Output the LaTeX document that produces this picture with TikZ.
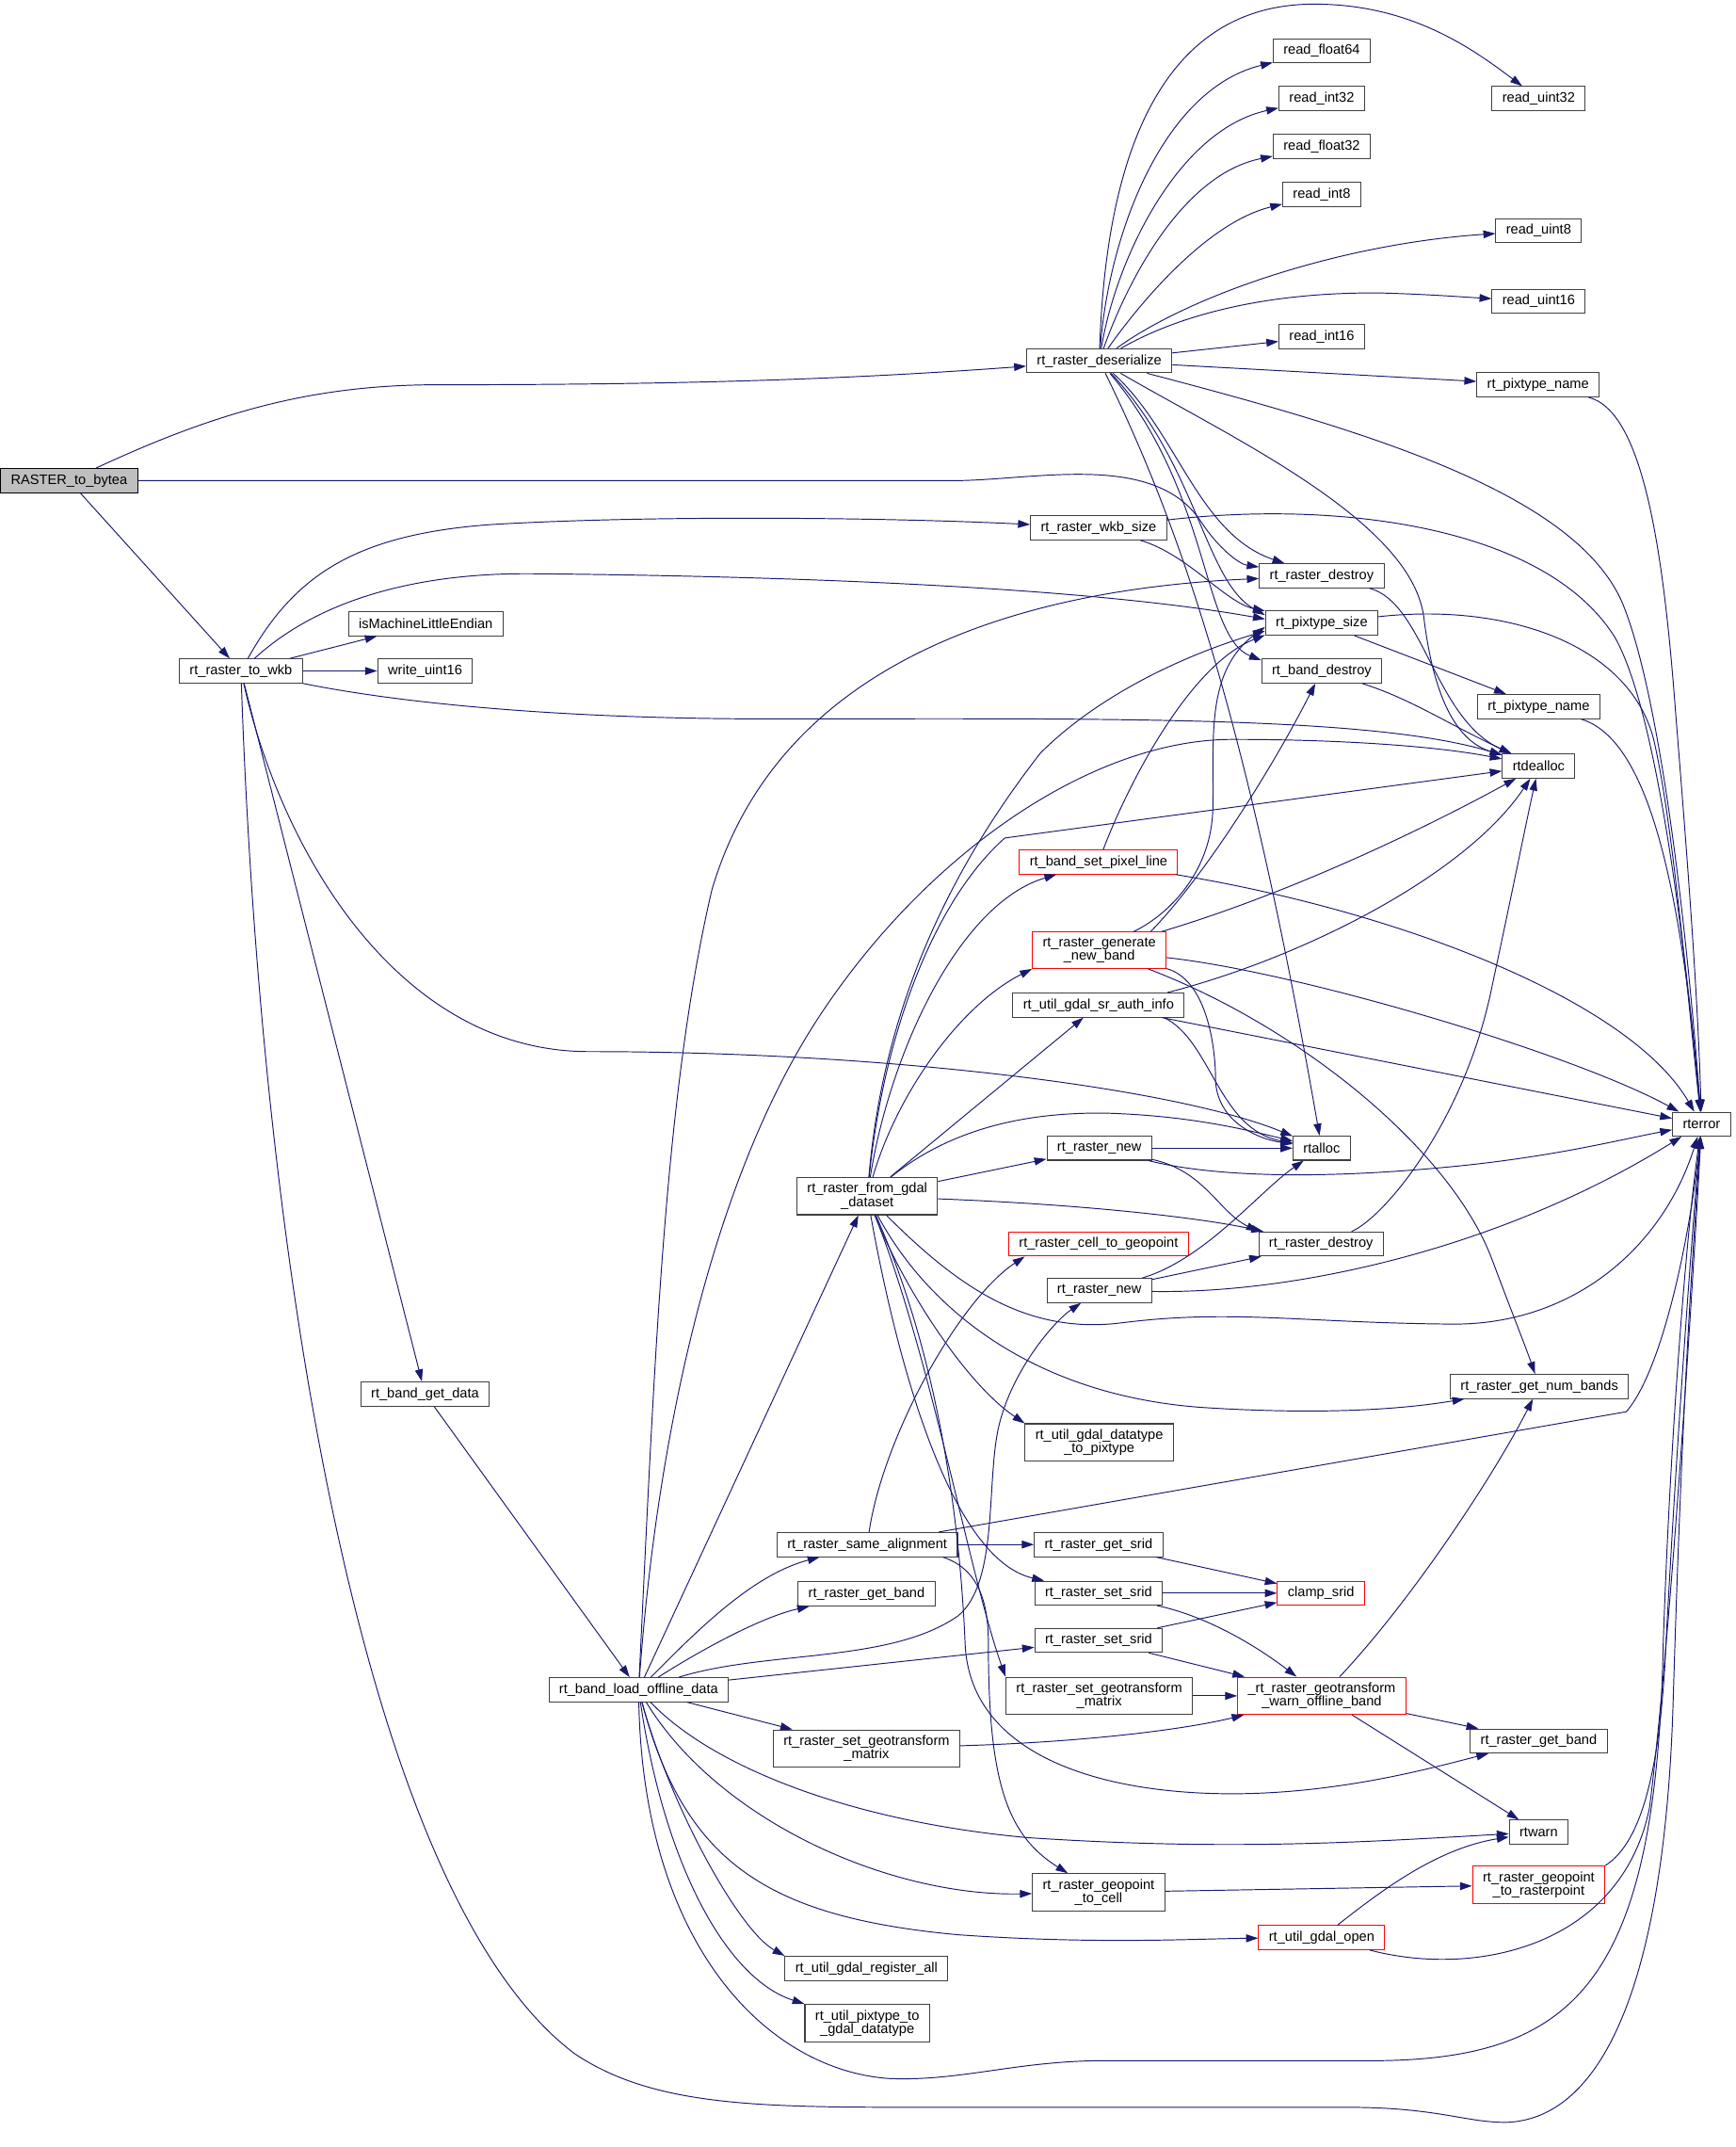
\documentclass[tikz,border=0pt]{standalone}
\usepackage{fontspec}
\setmainfont{Liberation Sans}
\usetikzlibrary{arrows.meta}
\definecolor{callblue}{HTML}{191970}
\definecolor{fnframe}{HTML}{404040}
\tikzstyle{fnbox} = [rectangle, draw=fnframe, fill=white, line width=0.8pt,
inner xsep=0.3cm, inner ysep=0.165cm, minimum height=0.7cm, align=center,
font=\fontsize{11.44}{11.1}\selectfont]
\tikzstyle{fnred} = [fnbox, draw=red]
\tikzstyle{fnroot} = [fnbox, draw=black, fill=black!25]
\tikzstyle{callarrow} = [->, draw=callblue, line width=0.75pt]
\tikzset{>={Triangle[length=10pt,width=6.5pt]}}
\newcommand{\calls}[3][]{ %
  % Straight call from node #2 to every node in #3.
  \foreach \callee in {#3} { %
    \path (#2) edge [callarrow,#1] (\callee) ;%
  } ;
}

\begin{document}
\begin{tikzpicture}[x=0.04cm, y=-0.04cm]
  \useasboundingbox (0,0) rectangle (1268,1568);

  \node[fnroot] (bytea) at (50.5,351) {RASTER\_to\_bytea};
  \node[fnbox] (wkb) at (176,490) {rt\_raster\_to\_wkb};
  \node[fnbox] (ismle) at (311,455.5) {isMachineLittleEndian};
  \node[fnbox] (wuint) at (310.5,490) {write\_uint16};
  \node[fnbox] (rf64) at (965.5,37) {read\_float64};
  \node[fnbox] (ri32) at (965.5,72) {read\_int32};
  \node[fnbox] (ru32) at (1124,72) {read\_uint32};
  \node[fnbox] (rf32) at (965.5,107) {read\_float32};
  \node[fnbox] (ri8) at (965.5,142) {read\_int8};
  \node[fnbox] (ru8) at (1124,168.5) {read\_uint8};
  \node[fnbox] (ru16) at (1124,220) {read\_uint16};
  \node[fnbox] (ri16) at (965.5,246) {read\_int16};
  \node[fnbox] (deser) at (803,263.5) {rt\_raster\_deserialize};
  \node[fnbox] (pixname) at (1123.5,281) {rt\_pixtype\_name};
  \node[fnbox] (wkbsize) at (802.5,385.5) {rt\_raster\_wkb\_size};
  \node[fnbox] (destroy) at (965.5,420.5) {rt\_raster\_destroy};
  \node[fnbox] (pixsize) at (965.5,455) {rt\_pixtype\_size};
  \node[fnbox] (banddestroy) at (965.5,490) {rt\_band\_destroy};
  \node[fnbox] (pixnameb) at (1124,516) {rt\_pixtype\_name};
  \node[fnbox] (rtdealloc) at (1124,559.5) {rtdealloc};
  \node[fnred] (setpixel) at (802.5,629.5) {rt\_band\_set\_pixel\_line};
  \node[fnred] (genband) at (803,694) {rt\_raster\_generate\\\_new\_band};
  \node[fnbox] (srauth) at (802.5,734) {rt\_util\_gdal\_sr\_auth\_info};
  \node[fnbox] (rtalloc) at (965.5,838.5) {rtalloc};
  \node[fnbox] (rnew) at (803,838.5) {rt\_raster\_new};
  \node[fnbox] (rterror) at (1243,821) {rterror};
  \node[fnbox] (fromgdal) at (633.5,873.5) {rt\_raster\_from\_gdal\\\_dataset};
  \node[fnred] (cellgeo) at (802.5,908.5) {rt\_raster\_cell\_to\_geopoint};
  \node[fnbox] (destroyb) at (965,908.5) {rt\_raster\_destroy};
  \node[fnbox] (rnewb) at (803,942.5) {rt\_raster\_new};
  \node[fnbox] (numbands) at (1124.5,1012.5) {rt\_raster\_get\_num\_bands};
  \node[fnbox] (getdata) at (310.5,1018) {rt\_band\_get\_data};
  \node[fnbox] (dtpix) at (803,1053.5) {rt\_util\_gdal\_datatype\\\_to\_pixtype};
  \node[fnbox] (samealign) at (633.5,1128) {rt\_raster\_same\_alignment};
  \node[fnbox] (getsrid) at (802.5,1128) {rt\_raster\_get\_srid};
  \node[fnbox] (getband) at (633,1164) {rt\_raster\_get\_band};
  \node[fnbox] (setsrid) at (802.5,1163.5) {rt\_raster\_set\_srid};
  \node[fnred] (clamp) at (965,1163.5) {clamp\_srid};
  \node[fnbox] (setsridb) at (802.5,1198) {rt\_raster\_set\_srid};
  \node[fnbox] (loadoff) at (466.5,1234) {rt\_band\_load\_offline\_data};
  \node[fnbox] (setgeo) at (803,1238.5) {rt\_raster\_set\_geotransform\\\_matrix};
  \node[fnred] (warnoff) at (965.5,1238.5) {\_rt\_raster\_geotransform\\\_warn\_offline\_band};
  \node[fnbox] (setgeob) at (633,1277) {rt\_raster\_set\_geotransform\\\_matrix};
  \node[fnbox] (getbandb) at (1124,1271.5) {rt\_raster\_get\_band};
  \node[fnbox] (rtwarn) at (1124,1338) {rtwarn};
  \node[fnred] (georaster) at (1124,1376.5) {rt\_raster\_geopoint\\\_to\_rasterpoint};
  \node[fnbox] (geocell) at (802.5,1382) {rt\_raster\_geopoint\\\_to\_cell};
  \node[fnred] (gdalopen) at (965.5,1415) {rt\_util\_gdal\_open};
  \node[fnbox] (regall) at (633,1437.5) {rt\_util\_gdal\_register\_all};
  \node[fnbox] (pixgdal) at (633.5,1477.5) {rt\_util\_pixtype\_to\\\_gdal\_datatype};

  \calls{bytea}{wkb}
  \calls{deser}{ri16,pixname}
  \calls{wkb}{ismle,wuint,getdata}
  \calls{pixsize}{pixnameb}
  \calls{getdata}{loadoff}
  \calls{fromgdal}{srauth,rnew}
  \calls{loadoff}{fromgdal,setsridb,setgeob}
  \calls{samealign}{getsrid}
  \calls{getsrid}{clamp}
  \calls{setsrid}{clamp}
  \calls{setsridb}{clamp,warnoff}
  \calls{setgeo}{warnoff}
  \calls{warnoff}{getbandb,rtwarn}
  \calls{geocell}{georaster}
  \calls{rnew}{rtalloc}
  \calls{rnewb}{destroyb}
  \calls{srauth}{rterror}

  \draw[callarrow] (bytea) .. controls (160,300) and (230,281) .. (320,281) .. controls (500,281) and (620,277) .. (deser);
  \draw[callarrow] (bytea.east) -- (700,351) .. controls (760,350) and (845,330) .. (878,382) .. controls (890,400) and (905,412) .. (destroy);

  \draw[callarrow] (deser) .. controls (808,110) and (850,3) .. (960,3) .. controls (1030,3) and (1075,35) .. (ru32);
  \draw[callarrow] (deser) .. controls (810,170) and (850,65) .. (rf64);
  \draw[callarrow] (deser) .. controls (815,190) and (860,95) .. (ri32);
  \draw[callarrow] (deser) .. controls (820,215) and (860,128) .. (rf32);
  \draw[callarrow] (deser) .. controls (830,225) and (880,163) .. (ri8);
  \draw[callarrow] (deser) .. controls (870,215) and (980,178) .. (ru8);
  \draw[callarrow] (deser) .. controls (870,225) and (940,213) .. (1010,214) .. controls (1045,215) and (1070,217) .. (ru16);
  \draw[callarrow] (deser) .. controls (1000,315) and (1150,360) .. (1185,440) .. controls (1210,500) and (1230,650) .. (rterror);
  \draw[callarrow] (deser) .. controls (900,320) and (1030,380) .. (1040,450) .. controls (1046,500) and (1060,540) .. (rtdealloc);
  \draw[callarrow] (deser) .. controls (860,315) and (875,390) .. (destroy);
  \draw[callarrow] (deser) .. controls (875,340) and (880,425) .. (pixsize.172);
  \draw[callarrow] (deser) .. controls (885,360) and (878,465) .. (banddestroy.170);
  \draw[callarrow] (deser) .. controls (860,380) and (910,520) .. (rtalloc);

  \draw[callarrow] (wkb) .. controls (215,420) and (260,390) .. (360,383) .. controls (480,376) and (650,378) .. (wkbsize);
  \draw[callarrow] (wkb) .. controls (225,445) and (290,418) .. (390,419) .. controls (600,421) and (800,430) .. (pixsize.176);
  \draw[callarrow] (wkb) .. controls (300,515) and (420,525) .. (560,525) .. controls (800,525) and (1000,522) .. (rtdealloc);
  \draw[callarrow] (wkb) .. controls (205,620) and (290,768) .. (430,768) .. controls (650,768) and (860,795) .. (rtalloc);
  \draw[callarrow] (wkb) .. controls (190,900) and (260,1380) .. (420,1500) .. controls (480,1540) and (560,1539) .. (690,1539) -- (984,1539) .. controls (1050,1539) and (1070,1550) .. (1100,1550) .. controls (1170,1548) and (1215,1450) .. (1222,1250) .. controls (1228,1050) and (1234,950) .. (rterror);

  \draw[callarrow] (wkbsize) .. controls (868,405) and (895,440) .. (pixsize.168);
  \draw[callarrow] (wkbsize) .. controls (980,365) and (1130,385) .. (1180,466) .. controls (1210,520) and (1230,680) .. (rterror);

  \draw[callarrow] (destroy) .. controls (1040,440) and (1048,525) .. (rtdealloc);
  \draw[callarrow] (pixsize) .. controls (1100,440) and (1190,470) .. (1208,540) .. controls (1222,600) and (1232,720) .. (rterror);
  \draw[callarrow] (banddestroy) .. controls (1030,510) and (1060,530) .. (rtdealloc);
  \draw[callarrow] (pixnameb) .. controls (1205,540) and (1228,650) .. (rterror);
  \draw[callarrow] (pixname) .. controls (1200,300) and (1215,400) .. (1224,520) .. controls (1232,620) and (1240,720) .. (rterror);

  \draw[callarrow] (fromgdal) .. controls (650,770) and (700,660) .. (setpixel);
  \draw[callarrow] (fromgdal) .. controls (655,800) and (700,735) .. (genband.south west);
  \draw[callarrow] (fromgdal) .. controls (700,820) and (760,812) .. (810,813) .. controls (870,815) and (910,825) .. (rtalloc);
  \draw[callarrow] (fromgdal) .. controls (800,880) and (880,890) .. (destroyb);
  \draw[callarrow] (fromgdal) .. controls (645,740) and (690,640) .. (760,550) .. controls (800,510) and (860,480) .. (pixsize.188);
  \draw[callarrow] (fromgdal) .. controls (645,760) and (680,660) .. (734,612) -- (rtdealloc);
  \draw[callarrow] (fromgdal) .. controls (660,940) and (705,1010) .. (dtpix.north west);
  \draw[callarrow] (fromgdal) .. controls (660,1020) and (700,1140) .. (setsrid);
  \draw[callarrow] (fromgdal) .. controls (680,990) and (708,1150) .. (setgeo.north west);
  \draw[callarrow] (fromgdal) .. controls (690,1000) and (702,1130) .. (705,1200) .. controls (708,1280) and (800,1310) .. (900,1310) .. controls (980,1310) and (1050,1290) .. (getbandb);
  \draw[callarrow] (fromgdal) .. controls (680,960) and (760,1020) .. (880,1028) .. controls (960,1033) and (1020,1030) .. (numbands);
  \draw[callarrow] (fromgdal) .. controls (700,940) and (750,975) .. (820,966) .. controls (900,956) and (950,966) .. (1060,967) .. controls (1150,968) and (1215,910) .. (rterror);

  \draw[callarrow] (loadoff) .. controls (478,1000) and (485,800) .. (520,650) .. controls (570,480) and (750,430) .. (destroy);
  \draw[callarrow] (loadoff) .. controls (480,1050) and (520,860) .. (600,740) .. controls (680,620) and (800,540) .. (900,540) .. controls (980,540) and (1050,545) .. (rtdealloc);
  \draw[callarrow] (loadoff) .. controls (510,1190) and (550,1150) .. (samealign);
  \draw[callarrow] (loadoff) .. controls (520,1200) and (560,1180) .. (getband);
  \draw[callarrow] (loadoff) .. controls (560,1205) and (650,1215) .. (700,1180) .. controls (730,1155) and (720,1080) .. (730,1040) .. controls (740,1000) and (770,965) .. (rnewb);
  \draw[callarrow] (loadoff) .. controls (520,1290) and (620,1330) .. (750,1342) .. controls (900,1352) and (1000,1345) .. (rtwarn);
  \draw[callarrow] (loadoff) .. controls (525,1330) and (650,1385) .. (geocell);
  \draw[callarrow] (loadoff) .. controls (500,1360) and (560,1400) .. (700,1413) .. controls (800,1420) and (870,1416) .. (gdalopen);
  \draw[callarrow] (loadoff) .. controls (490,1320) and (540,1410) .. (regall.north west);
  \draw[callarrow] (loadoff) .. controls (485,1360) and (530,1445) .. (pixgdal.north west);
  \draw[callarrow] (loadoff) .. controls (470,1420) and (560,1512) .. (650,1518) .. controls (700,1520) and (740,1506) .. (800,1505) -- (1000,1505) .. controls (1150,1505) and (1210,1450) .. (1215,1200) .. controls (1220,1050) and (1232,900) .. (rterror);

  \draw[callarrow] (samealign) .. controls (645,1050) and (700,950) .. ([xshift=0.48cm]cellgeo.south west);
  \draw[callarrow] ([xshift=-0.44cm]samealign.south east) .. controls (712,1145) and (722,1165) .. (722,1200) .. controls (722,1300) and (735,1340) .. (geocell);
  \draw[callarrow] (samealign) -- (1188,1031) .. controls (1215,1000) and (1235,900) .. (rterror);

  \draw[callarrow] (setsrid) .. controls (880,1180) and (915,1200) .. (warnoff);
  \draw[callarrow] (setgeob) .. controls (800,1272) and (870,1262) .. (warnoff);
  \draw[callarrow] (warnoff) .. controls (1030,1170) and (1090,1080) .. (numbands);

  \draw[callarrow] (georaster.north east) .. controls (1200,1345) and (1213,1290) .. (1217,1200) .. controls (1225,1050) and (1236,900) .. (rterror);
  \draw[callarrow] (gdalopen) .. controls (1010,1380) and (1050,1350) .. (rtwarn);
  \draw[callarrow] (gdalopen) .. controls (1080,1445) and (1185,1420) .. (1205,1320) .. controls (1220,1200) and (1236,950) .. (rterror);

  \draw[callarrow] (rnew) .. controls (880,858) and (950,862) .. (1050,853) .. controls (1130,846) and (1180,833) .. (rterror);
  \draw[callarrow] (rnew) .. controls (880,855) and (890,885) .. (destroyb.north west);
  \draw[callarrow] (rnewb) .. controls (880,920) and (920,870) .. (rtalloc);
  \draw[callarrow] (rnewb) .. controls (950,945) and (1100,910) .. (rterror);
  \draw[callarrow] (destroyb) .. controls (1010,890) and (1070,820) .. (1090,720) .. controls (1105,650) and (1115,600) .. (rtdealloc);

  \draw[callarrow] (setpixel) .. controls (825,570) and (870,485) .. (pixsize.192);
  \draw[callarrow] (setpixel) .. controls (1020,665) and (1190,730) .. (rterror);
  \draw[callarrow] ([xshift=1cm]genband.north) .. controls (850,670) and (885,640) .. (886,590) .. controls (887,540) and (880,490) .. (pixsize.184);
  \draw[callarrow] ([xshift=1.5cm]genband.north) .. controls (880,640) and (930,560) .. (banddestroy);
  \draw[callarrow] (genband) .. controls (950,650) and (1050,600) .. (rtdealloc);
  \draw[callarrow] (genband) .. controls (950,710) and (1150,770) .. (rterror);
  \draw[callarrow] (genband) .. controls (880,715) and (888,760) .. (888,790) .. controls (890,820) and (920,832) .. (rtalloc);
  \draw[callarrow] (genband) .. controls (950,750) and (1060,840) .. (1090,920) .. controls (1105,960) and (1115,985) .. (numbands);
  \draw[callarrow] ([xshift=-0.5cm]srauth.north east) .. controls (950,700) and (1070,640) .. (rtdealloc);
  \draw[callarrow] ([xshift=-0.6cm]srauth.south east) .. controls (885,760) and (890,825) .. (rtalloc);
\end{tikzpicture}
\end{document}
